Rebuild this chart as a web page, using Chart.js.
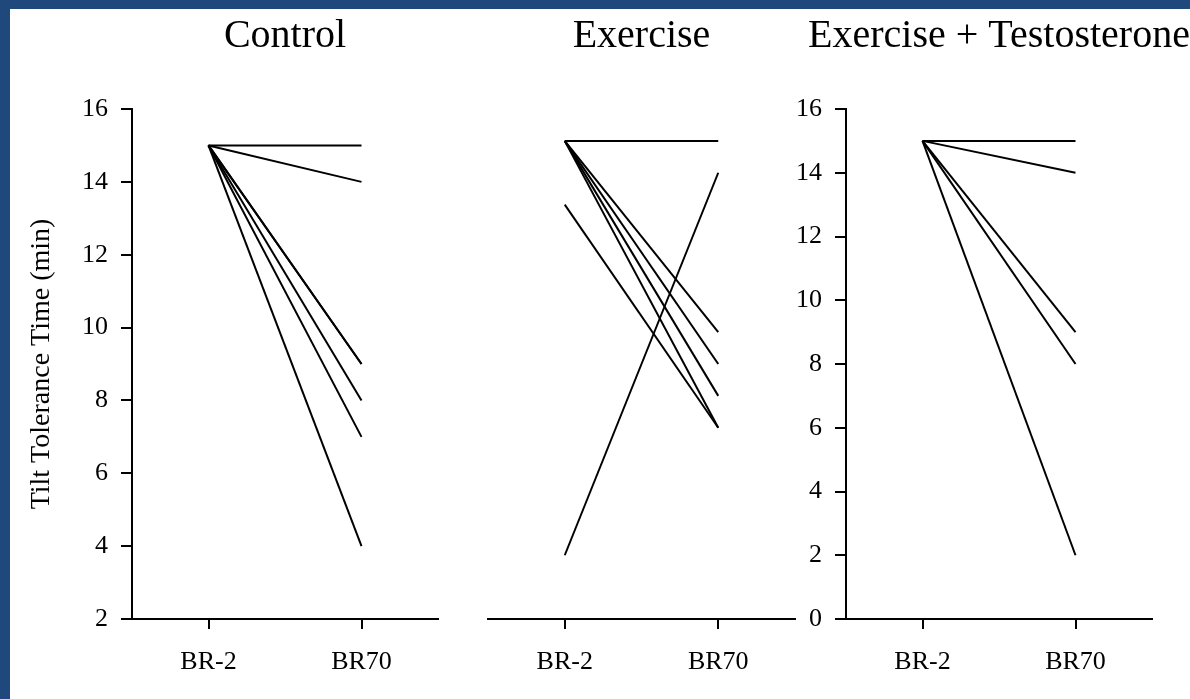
<!DOCTYPE html>
<html>
<head>
<meta charset="utf-8">
<script src="https://cdn.jsdelivr.net/npm/chart.js@4/dist/chart.umd.min.js"></script>
<style>
  html, body { margin: 0; padding: 0; }
  body { width: 1190px; height: 699px; background: #ffffff; position: relative; overflow: hidden; }
  .frame-top { position: absolute; left: 0; top: 0; width: 1190px; height: 9px; background: #1f497d; }
  .frame-left { position: absolute; left: 0; top: 0; width: 10px; height: 699px; background: #1f497d; }
  canvas { position: absolute; top: 9px; }
</style>
</head>
<body>
<div class="frame-top"></div>
<div class="frame-left"></div>
<canvas id="control" width="440" height="690" style="left:10px"></canvas>
<canvas id="exercise" width="360" height="690" style="left:450px"></canvas>
<canvas id="exTesto" width="400" height="690" style="left:790px"></canvas>
<script>
// Time points on the x axis
const timepoints = ['BR-2', 'BR70'];

// Y-axis tick values
const controlTicks = [2, 4, 6, 8, 10, 12, 14, 16];
const testoTicks = [0, 2, 4, 6, 8, 10, 12, 14, 16];

// Tilt tolerance time (min) per subject, before (BR-2) and at day 70 of bed rest (BR70)
const controlBR2 = [15, 15, 15, 15, 15, 15, 15];
const controlBR70 = [15, 14, 9, 9, 8, 7, 4];

const exerciseBR2 = [15, 2, 13, 15, 15, 15, 15];
const exerciseBR70 = [15, 14, 6, 9, 8, 7, 6];

const exTestoBR2 = [15, 15, 15, 15, 15];
const exTestoBR70 = [15, 14, 9, 8, 2];

const SERIF = "'Liberation Serif', 'Times New Roman', serif";

// Draws the group name centred over each plot area
const panelHeading = {
  id: 'panelHeading',
  afterDraw(chart, args, opts) {
    const { ctx, chartArea } = chart;
    ctx.save();
    ctx.font = opts.size + 'px ' + SERIF;
    ctx.fillStyle = '#000';
    ctx.textAlign = 'center';
    ctx.textBaseline = 'alphabetic';
    ctx.fillText(opts.text, (chartArea.left + chartArea.right) / 2, opts.baseline);
    ctx.restore();
  }
};

function makePanel(id, heading, before, after, ticks, cfg) {
  const datasets = before.map((v, i) => ({
    data: [v, after[i]],
    borderColor: '#000',
    borderWidth: 2,
    pointRadius: 0,
    fill: false,
    tension: 0
  }));
  new Chart(document.getElementById(id), {
    type: 'line',
    data: { labels: timepoints, datasets },
    plugins: [panelHeading],
    options: {
      responsive: false,
      animation: false,
      layout: { padding: { top: 100, bottom: 10, left: cfg.padLeft, right: cfg.padRight } },
      plugins: {
        legend: { display: false },
        tooltip: { enabled: false },
        panelHeading: { text: heading, size: 40, baseline: 38 }
      },
      scales: {
        x: {
          type: 'category',
          offset: true,
          afterFit(scale) { scale.height = 70; },
          border: { display: true, color: '#000', width: 2 },
          grid: { display: true, drawOnChartArea: false, drawTicks: true, tickLength: 10, color: '#000', lineWidth: 2 },
          ticks: { color: '#000', padding: 18, font: { family: SERIF, size: 26 }, maxRotation: 0 }
        },
        y: {
          display: cfg.showY,
          min: ticks[0],
          max: ticks[ticks.length - 1],
          afterFit(scale) { scale.width = cfg.yWidth; },
          afterBuildTicks(scale) { scale.ticks = ticks.map(v => ({ value: v })); },
          border: { display: true, color: '#000', width: 2 },
          grid: { display: true, drawOnChartArea: false, drawTicks: true, tickLength: 11, color: '#000', lineWidth: 2 },
          ticks: { color: '#000', padding: 13, font: { family: SERIF, size: 26 } },
          title: cfg.yTitle ? {
            display: true,
            text: 'Tilt Tolerance Time (min)',
            color: '#000',
            font: { family: SERIF, size: 28 },
            padding: { top: 15, bottom: 0 }
          } : { display: false }
        }
      }
    }
  });
}

makePanel('control', 'Control', controlBR2, controlBR70, controlTicks,
  { showY: true, yWidth: 122, padLeft: 0, padRight: 12, yTitle: true });
makePanel('exercise', 'Exercise', exerciseBR2, exerciseBR70, testoTicks,
  { showY: false, yWidth: 0, padLeft: 38, padRight: 15, yTitle: false });
makePanel('exTesto', 'Exercise + Testosterone', exTestoBR2, exTestoBR70, testoTicks,
  { showY: true, yWidth: 56, padLeft: 0, padRight: 38, yTitle: false });
</script>
</body>
</html>
